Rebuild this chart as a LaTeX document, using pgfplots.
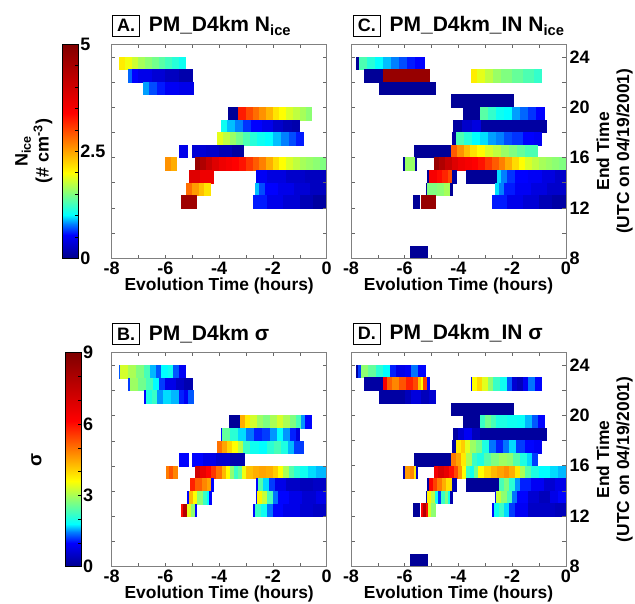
\documentclass[border=0pt]{standalone}
\usepackage{fontspec}
\setmainfont{Liberation Sans}
\usepackage{pgfplots}
\pgfplotsset{compat=1.18}

\newcommand\tickfont{\fontsize{18}{20}\selectfont\bfseries}
\newcommand\labfont{\fontsize{17.4}{20}\selectfont\bfseries}
\newcommand\ttlfont{\fontsize{21}{24}\selectfont\bfseries}
\newcommand\ttlbox[1]{{\tickfont\setlength\fboxsep{4pt}\setlength\fboxrule{0.7pt}\fbox{#1}}\hspace{9pt}}

\pgfplotsset{
  colormap={jetlike}{rgb(0pt)=(0,0,0.55) rgb(11pt)=(0,0,1) rgb(16pt)=(0,0.5,1) rgb(20pt)=(0,1,1) rgb(30pt)=(0.5,1,0.5) rgb(40pt)=(1,1,0) rgb(54pt)=(1,0.5,0) rgb(68pt)=(1,0,0) rgb(100pt)=(0.5,0,0)},
  panel/.style={
    scale only axis, width=215pt, height=214pt,
    xmin=-8, xmax=0, ymin=8, ymax=25,
    xtick={-8,-6,-4,-2,0}, xticklabels={-8,-6,-4,-2,0},
    minor xtick={-7,-5,-3,-1},
    ytick={8,12,16,20,24}, minor ytick={10,14,18,22},
    yticklabels={},
    tick align=inside,
    major tick length=3.5pt, minor tick length=3.5pt,
    tick style={black!60, line width=0.6pt},
    axis line style={black!50, line width=0.8pt},
    ticklabel style={font=\tickfont},
    label style={font=\labfont},
    xlabel={Evolution Time (hours)},
    xlabel style={yshift=3.5pt},
    colormap name=jetlike,
    axis on top,
  },
  rightlab/.style={
    yticklabel pos=right,
    yticklabels={8,12,16,20,24},
    ylabel={End Time\\(UTC on 04/19/2001)},
    ylabel style={align=center},
  },
  cbar/.style={
    scale only axis, width=16pt, height=214pt,
    xmin=0, xmax=1, xtick=\empty,
    ytick pos=right, yticklabel pos=right,
    tick align=inside, major tick length=3pt, minor tick length=3pt,
    tick style={black, line width=0.5pt},
    axis line style={black, line width=0.6pt},
    ticklabel style={font=\tickfont},
    yticklabel style={xshift=-1.5pt},
    colormap name=jetlike,
    axis on top,
  },
  strip/.style={surf, shader=flat corner, mesh/rows=2, point meta=explicit},
}

\begin{document}
\begin{tikzpicture}
\useasboundingbox (0,0) rectangle (635pt,604pt);

% ---------------- colour bar of the N_ice panels
\begin{axis}[cbar, at={(62.3pt,345.7pt)}, anchor=south west,
  ymin=0, ymax=5, point meta min=0, point meta max=5,
  ytick={0,2.5,5}, yticklabels={0,2.5,5},
  minor ytick={0.5,1,1.5,2,3,3.5,4,4.5},
  ylabel={N\textsubscript{ice}\\(\# cm\textsuperscript{-3})},
  ylabel style={at={(axis description cs:-0.4,0.5)}, anchor=south, align=center, font=\fontsize{18}{21}\selectfont\bfseries}]
\addplot[surf, shader=interp, mesh/rows=9, point meta=y] coordinates {
 (0,0) (1,0) (0,0.55) (1,0.55) (0,0.8) (1,0.8) (0,1) (1,1) (0,1.5) (1,1.5)
 (0,2) (1,2) (0,2.7) (1,2.7) (0,3.4) (1,3.4) (0,5) (1,5)};
\end{axis}

% ---------------- colour bar of the sigma panels
\begin{axis}[cbar, at={(65pt,37.3pt)}, anchor=south west,
  ymin=0, ymax=9, point meta min=0, point meta max=9,
  ytick={0,3,6,9}, yticklabels={0,3,6,9},
  minor ytick={1,2,4,5,7,8},
  ylabel={σ},
  ylabel style={at={(axis description cs:-1.25,0.5)}, anchor=south, font=\fontsize{19}{21}\selectfont\bfseries}]
\addplot[surf, shader=interp, mesh/rows=9, point meta=y] coordinates {
 (0,0) (1,0) (0,0.99) (1,0.99) (0,1.44) (1,1.44) (0,1.8) (1,1.8) (0,2.7) (1,2.7)
 (0,3.6) (1,3.6) (0,4.86) (1,4.86) (0,6.12) (1,6.12) (0,9) (1,9)};
\end{axis}

% ---------------- A: PM_D4km N_ice
\begin{axis}[panel, name=A, at={(111.7pt,345.7pt)}, anchor=south west,
  point meta min=0, point meta max=5]
\addplot[strip] coordinates {(-7.73,23)[2.1] (-7.5,23)[1.95] (-7.25,23)[1.8] (-7,23)[1.65] (-6.75,23)[1.55] (-6.5,23)[1.45] (-6.25,23)[1.35] (-6,23)[1.25] (-5.75,23)[1.15] (-5.5,23)[1.05] (-5.27,23)[1.05]
 (-7.73,24)[2.1] (-7.5,24)[1.95] (-7.25,24)[1.8] (-7,24)[1.65] (-6.75,24)[1.55] (-6.5,24)[1.45] (-6.25,24)[1.35] (-6,24)[1.25] (-5.75,24)[1.15] (-5.5,24)[1.05] (-5.27,24)[1.05]};
\addplot[strip] coordinates {(-7.38,22)[0.75] (-7.25,22)[0.55] (-7,22)[0.45] (-6.5,22)[0.35] (-6,22)[0.25] (-5.5,22)[0.15] (-5.02,22)[0.15]
 (-7.38,23)[0.75] (-7.25,23)[0.55] (-7,23)[0.45] (-6.5,23)[0.35] (-6,23)[0.25] (-5.5,23)[0.15] (-5.02,23)[0.15]};
\addplot[strip] coordinates {(-6.82,21)[0.85] (-6.6,21)[0.7] (-6.3,21)[0.6] (-6,21)[0.5] (-5.5,21)[0.45] (-4.96,21)[0.45]
 (-6.82,22)[0.85] (-6.6,22)[0.7] (-6.3,22)[0.6] (-6,22)[0.5] (-5.5,22)[0.45] (-4.96,22)[0.45]};
\addplot[strip] coordinates {(-3.66,19)[0.05] (-3.29,19)[3.25] (-3,19)[3] (-2.75,19)[2.8] (-2.5,19)[2.6] (-2.25,19)[2.4] (-2,19)[2.15] (-1.75,19)[2] (-1.5,19)[1.85] (-1.25,19)[1.75] (-1,19)[1.65] (-0.75,19)[1.55] (-0.59,19)[1.55]
 (-3.66,20)[0.05] (-3.29,20)[3.25] (-3,20)[3] (-2.75,20)[2.8] (-2.5,20)[2.6] (-2.25,20)[2.4] (-2,20)[2.15] (-1.75,20)[2] (-1.5,20)[1.85] (-1.25,20)[1.75] (-1,20)[1.65] (-0.75,20)[1.55] (-0.59,20)[1.55]};
\addplot[strip] coordinates {(-3.93,18)[1.05] (-3.7,18)[0.9] (-3.4,18)[0.8] (-3.1,18)[0.65] (-2.8,18)[0.55] (-2.4,18)[0.45] (-2,18)[0.3] (-1.6,18)[0.2] (-1.3,18)[0.15] (-1.03,18)[0.15]
 (-3.93,19)[1.05] (-3.7,19)[0.9] (-3.4,19)[0.8] (-3.1,19)[0.65] (-2.8,19)[0.55] (-2.4,19)[0.45] (-2,19)[0.3] (-1.6,19)[0.2] (-1.3,19)[0.15] (-1.03,19)[0.15]};
\addplot[strip] coordinates {(-4.09,17)[1.9] (-3.85,17)[1.75] (-3.6,17)[1.6] (-3.35,17)[1.45] (-3.1,17)[1.3] (-2.85,17)[1.15] (-2.6,17)[1.05] (-2.3,17)[1] (-2,17)[0.9] (-1.7,17)[0.8] (-1.4,17)[0.7] (-1.15,17)[0.6] (-0.87,17)[0.6]
 (-4.09,18)[1.9] (-3.85,18)[1.75] (-3.6,18)[1.6] (-3.35,18)[1.45] (-3.1,18)[1.3] (-2.85,18)[1.15] (-2.6,18)[1.05] (-2.3,18)[1] (-2,18)[0.9] (-1.7,18)[0.8] (-1.4,18)[0.7] (-1.15,18)[0.6] (-0.87,18)[0.6]};
\addplot[strip] coordinates {(-5.49,16)[0.45] (-5.18,16)[0.45] (-5.49,17)[0.45] (-5.18,17)[0.45]};
\addplot[strip] coordinates {(-4.99,16)[0.35] (-4.5,16)[0.3] (-4,16)[0.2] (-3.5,16)[0.1] (-3.1,16)[0.1]
 (-4.99,17)[0.35] (-4.5,17)[0.3] (-4,17)[0.2] (-3.5,17)[0.1] (-3.1,17)[0.1]};
\addplot[strip] coordinates {(-6.01,15)[2.6] (-5.8,15)[2.45] (-5.61,15)[2.45] (-6.01,16)[2.6] (-5.8,16)[2.45] (-5.61,16)[2.45]};
\addplot[strip] coordinates {(-4.9,15)[4.7] (-4.7,15)[4.4] (-4.5,15)[4.1] (-4.25,15)[3.8] (-4,15)[3.6] (-3.75,15)[3.5] (-3.5,15)[3.4] (-3.25,15)[3.3] (-3,15)[3.1] (-2.75,15)[2.9] (-2.5,15)[2.7] (-2.25,15)[2.45] (-2,15)[2.2] (-1.75,15)[2] (-1.5,15)[1.85] (-1.25,15)[1.75] (-1,15)[1.65] (-0.75,15)[1.6] (-0.5,15)[1.55] (-0.25,15)[1.5] (0,15)[1.5]
 (-4.9,16)[4.7] (-4.7,16)[4.4] (-4.5,16)[4.1] (-4.25,16)[3.8] (-4,16)[3.6] (-3.75,16)[3.5] (-3.5,16)[3.4] (-3.25,16)[3.3] (-3,16)[3.1] (-2.75,16)[2.9] (-2.5,16)[2.7] (-2.25,16)[2.45] (-2,16)[2.2] (-1.75,16)[2] (-1.5,16)[1.85] (-1.25,16)[1.75] (-1,16)[1.65] (-0.75,16)[1.6] (-0.5,16)[1.55] (-0.25,16)[1.5] (0,16)[1.5]};
\addplot[strip] coordinates {(-5.11,14)[3.8] (-4.7,14)[3.6] (-4.24,14)[3.6] (-5.11,15)[3.8] (-4.7,15)[3.6] (-4.24,15)[3.6]};
\addplot[strip] coordinates {(-2.63,14)[0.5] (-2.2,14)[0.4] (-1.5,14)[0.3] (-0.8,14)[0.25] (0,14)[0.25]
 (-2.63,15)[0.5] (-2.2,15)[0.4] (-1.5,15)[0.3] (-0.8,15)[0.25] (0,15)[0.25]};
\addplot[strip] coordinates {(-5.21,13)[2.8] (-5,13)[2.55] (-4.75,13)[2.35] (-4.55,13)[2.15] (-4.34,13)[2.15]
 (-5.21,14)[2.8] (-5,14)[2.55] (-4.75,14)[2.35] (-4.55,14)[2.15] (-4.34,14)[2.15]};
\addplot[strip] coordinates {(-2.66,13)[0.9] (-2.5,13)[0.7] (-2.3,13)[0.55] (-1.8,13)[0.45] (-1.2,13)[0.35] (-0.6,13)[0.25] (0,13)[0.25]
 (-2.66,14)[0.9] (-2.5,14)[0.7] (-2.3,14)[0.55] (-1.8,14)[0.45] (-1.2,14)[0.35] (-0.6,14)[0.25] (0,14)[0.25]};
\addplot[strip] coordinates {(-5.41,12)[4.6] (-4.84,12)[4.6] (-5.41,13)[4.6] (-4.84,13)[4.6]};
\addplot[strip] coordinates {(-2.73,12)[0.6] (-2.2,12)[0.45] (-1.6,12)[0.35] (-1,12)[0.2] (-0.5,12)[0.1] (0,12)[0.1]
 (-2.73,13)[0.6] (-2.2,13)[0.45] (-1.6,13)[0.35] (-1,13)[0.2] (-0.5,13)[0.1] (0,13)[0.1]};
\end{axis}

% ---------------- C: PM_D4km_IN N_ice
\begin{axis}[panel, rightlab, name=C, at={(351pt,345.7pt)}, anchor=south west,
  point meta min=0, point meta max=5]
\addplot[strip] coordinates {(-7.79,23)[0.05] (-7.69,23)[1.3] (-7.4,23)[1.15] (-7.1,23)[1] (-6.8,23)[0.9] (-6.5,23)[0.8] (-6.2,23)[0.7] (-5.9,23)[0.6] (-5.6,23)[0.55] (-5.27,23)[0.55]
 (-7.79,24)[0.05] (-7.69,24)[1.3] (-7.4,24)[1.15] (-7.1,24)[1] (-6.8,24)[0.9] (-6.5,24)[0.8] (-6.2,24)[0.7] (-5.9,24)[0.6] (-5.6,24)[0.55] (-5.27,24)[0.55]};
\addplot[strip] coordinates {(-7.5,22)[0.05] (-6.8,22)[4.7] (-5.1,22)[4.7] (-7.5,23)[0.05] (-6.8,23)[4.7] (-5.1,23)[4.7]};
\addplot[strip] coordinates {(-3.53,22)[2.1] (-3.3,22)[1.9] (-3,22)[1.75] (-2.7,22)[1.6] (-2.4,22)[1.5] (-2,22)[1.4] (-1.6,22)[1.3] (-1.2,22)[1.2] (-0.93,22)[1.2]
 (-3.53,23)[2.1] (-3.3,23)[1.9] (-3,23)[1.75] (-2.7,23)[1.6] (-2.4,23)[1.5] (-2,23)[1.4] (-1.6,23)[1.3] (-1.2,23)[1.2] (-0.93,23)[1.2]};
\addplot[strip] coordinates {(-6.96,21)[0.05] (-4.86,21)[0.05] (-6.96,22)[0.05] (-4.86,22)[0.05]};
\addplot[strip] coordinates {(-4.28,20)[0.05] (-1.98,20)[0.05] (-4.28,21)[0.05] (-1.98,21)[0.05]};
\addplot[strip] coordinates {(-3.84,19)[0.05] (-3.2,19)[1.35] (-2.9,19)[1.2] (-2.6,19)[1.05] (-2.3,19)[1] (-2,19)[0.85] (-1.7,19)[0.75] (-1.4,19)[0.65] (-1.1,19)[0.55] (-0.82,19)[0.55]
 (-3.84,20)[0.05] (-3.2,20)[1.35] (-2.9,20)[1.2] (-2.6,20)[1.05] (-2.3,20)[1] (-2,20)[0.85] (-1.7,20)[0.75] (-1.4,20)[0.65] (-1.1,20)[0.55] (-0.82,20)[0.55]};
\addplot[strip] coordinates {(-4.2,18)[0.1] (-3.85,18)[0.3] (-3.5,18)[0.4] (-3.15,18)[0.1] (-0.74,18)[0.1]
 (-4.2,19)[0.1] (-3.85,19)[0.3] (-3.5,19)[0.4] (-3.15,19)[0.1] (-0.74,19)[0.1]};
\addplot[strip] coordinates {(-4.24,17)[0.1] (-4.07,17)[1.3] (-3.8,17)[1.15] (-3.5,17)[1] (-3.2,17)[0.95] (-2.9,17)[0.85] (-2.6,17)[0.8] (-2.3,17)[0.7] (-2,17)[0.65] (-1.6,17)[0.55] (-1.2,17)[0.5] (-0.93,17)[0.5]
 (-4.24,18)[0.1] (-4.07,18)[1.3] (-3.8,18)[1.15] (-3.5,18)[1] (-3.2,18)[0.95] (-2.9,18)[0.85] (-2.6,18)[0.8] (-2.3,18)[0.7] (-2,18)[0.65] (-1.6,18)[0.55] (-1.2,18)[0.5] (-0.93,18)[0.5]};
\addplot[strip] coordinates {(-5.64,16)[0.05] (-4.28,16)[2.9] (-4.05,16)[2.6] (-3.8,16)[2.35] (-3.55,16)[2.15] (-3.3,16)[2] (-3,16)[1.85] (-2.7,16)[1.75] (-2.4,16)[1.6] (-2.1,16)[1.5] (-1.8,16)[1.4] (-1.5,16)[1.3] (-1.09,16)[1.3]
 (-5.64,17)[0.05] (-4.28,17)[2.9] (-4.05,17)[2.6] (-3.8,17)[2.35] (-3.55,17)[2.15] (-3.3,17)[2] (-3,17)[1.85] (-2.7,17)[1.75] (-2.4,17)[1.6] (-2.1,17)[1.5] (-1.8,17)[1.4] (-1.5,17)[1.3] (-1.09,17)[1.3]};
\addplot[strip] coordinates {(-6.04,15)[0.05] (-5.97,15)[1.6] (-5.62,15)[0.05] (-5.56,15)[0.05] (-6.04,16)[0.05] (-5.97,16)[1.6] (-5.62,16)[0.05] (-5.56,16)[0.05]};
\addplot[strip] coordinates {(-4.9,15)[4.7] (-4.7,15)[4.4] (-4.5,15)[4.1] (-4.25,15)[3.8] (-4,15)[3.6] (-3.75,15)[3.5] (-3.5,15)[3.4] (-3.25,15)[3.3] (-3,15)[3.1] (-2.75,15)[2.9] (-2.5,15)[2.7] (-2.25,15)[2.45] (-2,15)[2.2] (-1.75,15)[2] (-1.5,15)[1.85] (-1.25,15)[1.75] (-1,15)[1.65] (-0.75,15)[1.6] (-0.5,15)[1.55] (-0.25,15)[1.5] (0,15)[1.5]
 (-4.9,16)[4.7] (-4.7,16)[4.4] (-4.5,16)[4.1] (-4.25,16)[3.8] (-4,16)[3.6] (-3.75,16)[3.5] (-3.5,16)[3.4] (-3.25,16)[3.3] (-3,16)[3.1] (-2.75,16)[2.9] (-2.5,16)[2.7] (-2.25,16)[2.45] (-2,16)[2.2] (-1.75,16)[2] (-1.5,16)[1.85] (-1.25,16)[1.75] (-1,16)[1.65] (-0.75,16)[1.6] (-0.5,16)[1.55] (-0.25,16)[1.5] (0,16)[1.5]};
\addplot[strip] coordinates {(-5.15,14)[0.05] (-5.09,14)[3.5] (-4.8,14)[3.35] (-4.6,14)[3.2] (-4.4,14)[3] (-4.22,14)[0.1] (-4.09,14)[0.1]
 (-5.15,15)[0.05] (-5.09,15)[3.5] (-4.8,15)[3.35] (-4.6,15)[3.2] (-4.4,15)[3] (-4.22,15)[0.1] (-4.09,15)[0.1]};
\addplot[strip] coordinates {(-3.73,14)[0.05] (-2.55,14)[0.95] (-2.4,14)[0.8] (-2.2,14)[0.65] (-1.9,14)[0.55] (-1.4,14)[0.5] (-0.9,14)[0.4] (-0.4,14)[0.3] (0,14)[0.3]
 (-3.73,15)[0.05] (-2.55,15)[0.95] (-2.4,15)[0.8] (-2.2,15)[0.65] (-1.9,15)[0.55] (-1.4,15)[0.5] (-0.9,15)[0.4] (-0.4,15)[0.3] (0,15)[0.3]};
\addplot[strip] coordinates {(-5.22,13)[0.05] (-5.16,13)[1.5] (-4.8,13)[1.55] (-4.55,13)[1.65] (-4.31,13)[0.05] (-4.24,13)[0.05]
 (-5.22,14)[0.05] (-5.16,14)[1.5] (-4.8,14)[1.55] (-4.55,14)[1.65] (-4.31,14)[0.05] (-4.24,14)[0.05]};
\addplot[strip] coordinates {(-2.64,13)[0.95] (-2.5,13)[0.8] (-2.3,13)[0.6] (-1.9,13)[0.5] (-1.3,13)[0.4] (-0.7,13)[0.3] (0,13)[0.3]
 (-2.64,14)[0.95] (-2.5,14)[0.8] (-2.3,14)[0.6] (-1.9,14)[0.5] (-1.3,14)[0.4] (-0.7,14)[0.3] (0,14)[0.3]};
\addplot[strip] coordinates {(-5.7,12)[0.05] (-5.47,12)[0.05] (-5.7,13)[0.05] (-5.47,13)[0.05]};
\addplot[strip] coordinates {(-5.39,12)[4.7] (-4.86,12)[4.7] (-5.39,13)[4.7] (-4.86,13)[4.7]};
\addplot[strip] coordinates {(-2.73,12)[0.6] (-2.2,12)[0.45] (-1.6,12)[0.35] (-1,12)[0.2] (-0.5,12)[0.12] (0,12)[0.12]
 (-2.73,13)[0.6] (-2.2,13)[0.45] (-1.6,13)[0.35] (-1,13)[0.2] (-0.5,13)[0.12] (0,13)[0.12]};
\addplot[strip] coordinates {(-5.79,8)[0.05] (-5.18,8)[0.05] (-5.79,9)[0.05] (-5.18,9)[0.05]};
\end{axis}

% ---------------- B: PM_D4km sigma
\begin{axis}[panel, name=B, at={(111.7pt,37.3pt)}, anchor=south west,
  point meta min=0, point meta max=9]
\addplot[strip] coordinates {(-7.73,23)[1.3] (-7.67,23)[3.3] (-7.4,23)[3] (-7.1,23)[2.7] (-6.8,23)[2.3] (-6.55,23)[1.6] (-6.35,23)[1.3] (-6.15,23)[1.8] (-5.9,23)[1.9] (-5.7,23)[1.3] (-5.5,23)[0.9] (-5.25,23)[0.9]
 (-7.73,24)[1.3] (-7.67,24)[3.3] (-7.4,24)[3] (-7.1,24)[2.7] (-6.8,24)[2.3] (-6.55,24)[1.6] (-6.35,24)[1.3] (-6.15,24)[1.8] (-5.9,24)[1.9] (-5.7,24)[1.3] (-5.5,24)[0.9] (-5.25,24)[0.9]};
\addplot[strip] coordinates {(-7.38,22)[1.2] (-7.32,22)[2.9] (-7,22)[2.6] (-6.7,22)[2.3] (-6.45,22)[1.8] (-6.25,22)[1.2] (-6,22)[0.8] (-5.6,22)[0.5] (-5.3,22)[0.3] (-5,22)[0.3]
 (-7.38,23)[1.2] (-7.32,23)[2.9] (-7,23)[2.6] (-6.7,23)[2.3] (-6.45,23)[1.8] (-6.25,23)[1.2] (-6,23)[0.8] (-5.6,23)[0.5] (-5.3,23)[0.3] (-5,23)[0.3]};
\addplot[strip] coordinates {(-6.8,21)[1] (-6.73,21)[2] (-6.5,21)[2.2] (-6.3,21)[1.5] (-6.1,21)[1.7] (-5.8,21)[1.6] (-5.5,21)[1.1] (-5.3,21)[0.9] (-5.15,21)[1.3] (-4.96,21)[1.3]
 (-6.8,22)[1] (-6.73,22)[2] (-6.5,22)[2.2] (-6.3,22)[1.5] (-6.1,22)[1.7] (-5.8,22)[1.6] (-5.5,22)[1.1] (-5.3,22)[0.9] (-5.15,22)[1.3] (-4.96,22)[1.3]};
\addplot[strip] coordinates {(-3.62,19)[0.1] (-3.23,19)[4.4] (-3.05,19)[3.8] (-2.85,19)[3.3] (-2.6,19)[2.9] (-2.35,19)[2.7] (-2.1,19)[3] (-1.85,19)[3.3] (-1.6,19)[3] (-1.35,19)[2.7] (-1.15,19)[2.3] (-0.95,19)[1.5] (-0.8,19)[1] (-0.56,19)[1]
 (-3.62,20)[0.1] (-3.23,20)[4.4] (-3.05,20)[3.8] (-2.85,20)[3.3] (-2.6,20)[2.9] (-2.35,20)[2.7] (-2.1,20)[3] (-1.85,20)[3.3] (-1.6,20)[3] (-1.35,20)[2.7] (-1.15,20)[2.3] (-0.95,20)[1.5] (-0.8,20)[1] (-0.56,20)[1]};
\addplot[strip] coordinates {(-3.93,18)[1] (-3.87,18)[2.5] (-3.6,18)[2.1] (-3.3,18)[1.7] (-3,18)[1.4] (-2.7,18)[1.1] (-2.4,18)[1.2] (-2.1,18)[1.5] (-1.85,18)[1.8] (-1.6,18)[1.5] (-1.35,18)[1.1] (-1.15,18)[0.7] (-1.03,18)[0.7]
 (-3.93,19)[1] (-3.87,19)[2.5] (-3.6,19)[2.1] (-3.3,19)[1.7] (-3,19)[1.4] (-2.7,19)[1.1] (-2.4,19)[1.2] (-2.1,19)[1.5] (-1.85,19)[1.8] (-1.6,19)[1.5] (-1.35,19)[1.1] (-1.15,19)[0.7] (-1.03,19)[0.7]};
\addplot[strip] coordinates {(-4.07,17)[5] (-3.9,17)[4.5] (-3.7,17)[4] (-3.5,17)[3.6] (-3.3,17)[3.1] (-3.1,17)[2.2] (-2.85,17)[1.9] (-2.5,17)[1.8] (-2.2,17)[2.1] (-1.95,17)[2.3] (-1.7,17)[2] (-1.45,17)[1.6] (-1.2,17)[1.2] (-0.87,17)[1.2]
 (-4.07,18)[5] (-3.9,18)[4.5] (-3.7,18)[4] (-3.5,18)[3.6] (-3.3,18)[3.1] (-3.1,18)[2.2] (-2.85,18)[1.9] (-2.5,18)[1.8] (-2.2,18)[2.1] (-1.95,18)[2.3] (-1.7,18)[2] (-1.45,18)[1.6] (-1.2,18)[1.2] (-0.87,18)[1.2]};
\addplot[strip] coordinates {(-5.48,16)[1] (-5.17,16)[1] (-5.48,17)[1] (-5.17,17)[1]};
\addplot[strip] coordinates {(-4.99,16)[1] (-4.6,16)[0.8] (-4.1,16)[0.6] (-3.6,16)[0.3] (-3.07,16)[0.3]
 (-4.99,17)[1] (-4.6,17)[0.8] (-4.1,17)[0.6] (-3.6,17)[0.3] (-3.07,17)[0.3]};
\addplot[strip] coordinates {(-5.98,15)[4.9] (-5.85,15)[5.3] (-5.7,15)[4.8] (-5.58,15)[4.8] (-5.98,16)[4.9] (-5.85,16)[5.3] (-5.7,16)[4.8] (-5.58,16)[4.8]};
\addplot[strip] coordinates {(-4.9,15)[7.2] (-4.7,15)[6.6] (-4.5,15)[6.1] (-4.3,15)[5.6] (-4.1,15)[5] (-3.9,15)[4.3] (-3.75,15)[3.6] (-3.6,15)[2.8] (-3.45,15)[2.2] (-3.3,15)[2.5] (-3.15,15)[3.5] (-3,15)[4.2] (-2.75,15)[4.4] (-2.5,15)[4.5] (-2.25,15)[4.4] (-2,15)[4.1] (-1.8,15)[3.6] (-1.6,15)[3] (-1.4,15)[2.4] (-1.2,15)[2.1] (-1,15)[1.9] (-0.7,15)[1.7] (-0.4,15)[1.6] (0,15)[1.6]
 (-4.9,16)[7.2] (-4.7,16)[6.6] (-4.5,16)[6.1] (-4.3,16)[5.6] (-4.1,16)[5] (-3.9,16)[4.3] (-3.75,16)[3.6] (-3.6,16)[2.8] (-3.45,16)[2.2] (-3.3,16)[2.5] (-3.15,16)[3.5] (-3,16)[4.2] (-2.75,16)[4.4] (-2.5,16)[4.5] (-2.25,16)[4.4] (-2,16)[4.1] (-1.8,16)[3.6] (-1.6,16)[3] (-1.4,16)[2.4] (-1.2,16)[2.1] (-1,16)[1.9] (-0.7,16)[1.7] (-0.4,16)[1.6] (0,16)[1.6]};
\addplot[strip] coordinates {(-5.08,14)[5.8] (-4.9,14)[5.2] (-4.65,14)[4.8] (-4.45,14)[4.5] (-4.3,14)[1] (-4.22,14)[1]
 (-5.08,15)[5.8] (-4.9,15)[5.2] (-4.65,15)[4.8] (-4.45,15)[4.5] (-4.3,15)[1] (-4.22,15)[1]};
\addplot[strip] coordinates {(-2.63,14)[1] (-2.55,14)[2.4] (-2.35,14)[1.7] (-2.15,14)[1.2] (-1.9,14)[0.8] (-1.5,14)[0.5] (-1,14)[0.4] (-0.5,14)[0.5] (0,14)[0.5]
 (-2.63,15)[1] (-2.55,15)[2.4] (-2.35,15)[1.7] (-2.15,15)[1.2] (-1.9,15)[0.8] (-1.5,15)[0.5] (-1,15)[0.4] (-0.5,15)[0.5] (0,15)[0.5]};
\addplot[strip] coordinates {(-5.18,13)[1] (-5.12,13)[4.3] (-4.95,13)[3.6] (-4.8,13)[2.8] (-4.6,13)[2.2] (-4.45,13)[1.8] (-4.36,13)[1] (-4.3,13)[1]
 (-5.18,14)[1] (-5.12,14)[4.3] (-4.95,14)[3.6] (-4.8,14)[2.8] (-4.6,14)[2.2] (-4.45,14)[1.8] (-4.36,14)[1] (-4.3,14)[1]};
\addplot[strip] coordinates {(-2.63,13)[1] (-2.58,13)[3.7] (-2.4,13)[3.2] (-2.2,13)[2.3] (-2,13)[1.4] (-1.8,13)[1] (-1.4,13)[0.8] (-0.9,13)[0.6] (-0.4,13)[0.8] (0,13)[0.8]
 (-2.63,14)[1] (-2.58,14)[3.7] (-2.4,14)[3.2] (-2.2,14)[2.3] (-2,14)[1.4] (-1.8,14)[1] (-1.4,14)[0.8] (-0.9,14)[0.6] (-0.4,14)[0.8] (0,14)[0.8]};
\addplot[strip] coordinates {(-5.4,12)[6] (-5.33,12)[7.8] (-5.2,12)[3.4] (-5.05,12)[2.8] (-4.9,12)[1] (-4.84,12)[1]
 (-5.4,13)[6] (-5.33,13)[7.8] (-5.2,13)[3.4] (-5.05,13)[2.8] (-4.9,13)[1] (-4.84,13)[1]};
\addplot[strip] coordinates {(-2.73,12)[1] (-2.67,12)[2.2] (-2.45,12)[1.9] (-2.2,12)[1.4] (-2,12)[1] (-1.6,12)[0.8] (-1,12)[0.6] (-0.5,12)[0.5] (0,12)[0.5]
 (-2.73,13)[1] (-2.67,13)[2.2] (-2.45,13)[1.9] (-2.2,13)[1.4] (-2,13)[1] (-1.6,13)[0.8] (-1,13)[0.6] (-0.5,13)[0.5] (0,13)[0.5]};
\end{axis}

% ---------------- D: PM_D4km_IN sigma
\begin{axis}[panel, rightlab, name=D, at={(351pt,37.5pt)}, anchor=south west,
  point meta min=0, point meta max=9]
\addplot[strip] coordinates {(-7.79,23)[0.2] (-7.72,23)[1.2] (-7.62,23)[2.8] (-7.35,23)[2.5] (-7.05,23)[2.1] (-6.8,23)[1.8] (-6.55,23)[1.1] (-6.3,23)[0.8] (-6,23)[0.9] (-5.75,23)[1.4] (-5.5,23)[1] (-5.25,23)[1]
 (-7.79,24)[0.2] (-7.72,24)[1.2] (-7.62,24)[2.8] (-7.35,24)[2.5] (-7.05,24)[2.1] (-6.8,24)[1.8] (-6.55,24)[1.1] (-6.3,24)[0.8] (-6,24)[0.9] (-5.75,24)[1.4] (-5.5,24)[1] (-5.25,24)[1]};
\addplot[strip] coordinates {(-7.5,22)[0.2] (-6.8,22)[6.3] (-6.65,22)[5.2] (-6.45,22)[4.8] (-6.2,22)[5.3] (-5.95,22)[5.8] (-5.7,22)[5.4] (-5.5,22)[4.2] (-5.4,22)[3.6] (-5.32,22)[5.5] (-5.17,22)[1] (-5.1,22)[1]
 (-7.5,23)[0.2] (-6.8,23)[6.3] (-6.65,23)[5.2] (-6.45,23)[4.8] (-6.2,23)[5.3] (-5.95,23)[5.8] (-5.7,23)[5.4] (-5.5,23)[4.2] (-5.4,23)[3.6] (-5.32,23)[5.5] (-5.17,23)[1] (-5.1,23)[1]};
\addplot[strip] coordinates {(-3.53,22)[1] (-3.48,22)[3.6] (-3.3,22)[4] (-3.1,22)[3.4] (-2.9,22)[2.8] (-2.7,22)[2.2] (-2.45,22)[1.9] (-2.2,22)[1.3] (-2,22)[0.6] (-1.8,22)[0.4] (-1.6,22)[0.9] (-1.4,22)[1.4] (-1.15,22)[1] (-0.93,22)[1]
 (-3.53,23)[1] (-3.48,23)[3.6] (-3.3,23)[4] (-3.1,23)[3.4] (-2.9,23)[2.8] (-2.7,23)[2.2] (-2.45,23)[1.9] (-2.2,23)[1.3] (-2,23)[0.6] (-1.8,23)[0.4] (-1.6,23)[0.9] (-1.4,23)[1.4] (-1.15,23)[1] (-0.93,23)[1]};
\addplot[strip] coordinates {(-6.95,21)[0.2] (-6,21)[0.4] (-5.75,21)[0.7] (-5.4,21)[0.4] (-5.1,21)[0.6] (-4.86,21)[0.6]
 (-6.95,22)[0.2] (-6,22)[0.4] (-5.75,22)[0.7] (-5.4,22)[0.4] (-5.1,22)[0.6] (-4.86,22)[0.6]};
\addplot[strip] coordinates {(-4.28,20)[0.1] (-1.98,20)[0.1] (-4.28,21)[0.1] (-1.98,21)[0.1]};
\addplot[strip] coordinates {(-3.84,19)[0.1] (-3.2,19)[2.2] (-3,19)[2.6] (-2.8,19)[2.3] (-2.6,19)[2] (-2.2,19)[1.9] (-1.8,19)[1.85] (-1.5,19)[1.6] (-1.25,19)[1.3] (-1.05,19)[1] (-0.8,19)[1]
 (-3.84,20)[0.1] (-3.2,20)[2.2] (-3,20)[2.6] (-2.8,20)[2.3] (-2.6,20)[2] (-2.2,20)[1.9] (-1.8,20)[1.85] (-1.5,20)[1.6] (-1.25,20)[1.3] (-1.05,20)[1] (-0.8,20)[1]};
\addplot[strip] coordinates {(-4.2,18)[0.2] (-4,18)[0.6] (-3.8,18)[0.9] (-3.5,18)[0.4] (-3.2,18)[0.15] (-0.74,18)[0.15]
 (-4.2,19)[0.2] (-4,19)[0.6] (-3.8,19)[0.9] (-3.5,19)[0.4] (-3.2,19)[0.15] (-0.74,19)[0.15]};
\addplot[strip] coordinates {(-4.24,17)[0.2] (-4.08,17)[3.8] (-3.9,17)[4.1] (-3.75,17)[3.4] (-3.55,17)[2.9] (-3.35,17)[2.6] (-3.1,17)[2] (-2.85,17)[1.4] (-2.6,17)[1.1] (-2.35,17)[1.4] (-2.1,17)[1.7] (-1.85,17)[1.2] (-1.5,17)[1] (-1.2,17)[0.9] (-0.93,17)[0.9]
 (-4.24,18)[0.2] (-4.08,18)[3.8] (-3.9,18)[4.1] (-3.75,18)[3.4] (-3.55,18)[2.9] (-3.35,18)[2.6] (-3.1,18)[2] (-2.85,18)[1.4] (-2.6,18)[1.1] (-2.35,18)[1.4] (-2.1,18)[1.7] (-1.85,18)[1.2] (-1.5,18)[1] (-1.2,18)[0.9] (-0.93,18)[0.9]};
\addplot[strip] coordinates {(-5.64,16)[0.1] (-4.28,16)[4.9] (-4.1,16)[4.5] (-3.9,16)[3.8] (-3.7,16)[3] (-3.5,16)[2.2] (-3.3,16)[2] (-3.05,16)[2.4] (-2.8,16)[2.7] (-2.5,16)[2.9] (-2.2,16)[2.8] (-1.95,16)[2.4] (-1.7,16)[2] (-1.45,16)[1.7] (-1.25,16)[1.2] (-1.09,16)[1.2]
 (-5.64,17)[0.1] (-4.28,17)[4.9] (-4.1,17)[4.5] (-3.9,17)[3.8] (-3.7,17)[3] (-3.5,17)[2.2] (-3.3,17)[2] (-3.05,17)[2.4] (-2.8,17)[2.7] (-2.5,17)[2.9] (-2.2,17)[2.8] (-1.95,17)[2.4] (-1.7,17)[2] (-1.45,17)[1.7] (-1.25,17)[1.2] (-1.09,17)[1.2]};
\addplot[strip] coordinates {(-6.04,15)[0.3] (-5.97,15)[4.6] (-5.8,15)[4.8] (-5.65,15)[3.8] (-5.58,15)[0.5] (-5.53,15)[0.5]
 (-6.04,16)[0.3] (-5.97,16)[4.6] (-5.8,16)[4.8] (-5.65,16)[3.8] (-5.58,16)[0.5] (-5.53,16)[0.5]};
\addplot[strip] coordinates {(-4.9,15)[6.4] (-4.75,15)[7] (-4.55,15)[6.6] (-4.35,15)[6] (-4.15,15)[5.4] (-4,15)[4.6] (-3.85,15)[3.6] (-3.7,15)[2.2] (-3.55,15)[1.9] (-3.4,15)[2.6] (-3.25,15)[3.6] (-3.05,15)[4] (-2.8,15)[4.3] (-2.55,15)[4.5] (-2.3,15)[4.7] (-2.1,15)[4.4] (-1.9,15)[3.8] (-1.7,15)[3] (-1.5,15)[2.4] (-1.3,15)[2] (-1,15)[1.8] (-0.6,15)[1.7] (-0.3,15)[1.6] (0,15)[1.6]
 (-4.9,16)[6.4] (-4.75,16)[7] (-4.55,16)[6.6] (-4.35,16)[6] (-4.15,16)[5.4] (-4,16)[4.6] (-3.85,16)[3.6] (-3.7,16)[2.2] (-3.55,16)[1.9] (-3.4,16)[2.6] (-3.25,16)[3.6] (-3.05,16)[4] (-2.8,16)[4.3] (-2.55,16)[4.5] (-2.3,16)[4.7] (-2.1,16)[4.4] (-1.9,16)[3.8] (-1.7,16)[3] (-1.5,16)[2.4] (-1.3,16)[2] (-1,16)[1.8] (-0.6,16)[1.7] (-0.3,16)[1.6] (0,16)[1.6]};
\addplot[strip] coordinates {(-5.15,14)[0.2] (-5.09,14)[6.2] (-4.95,14)[5.5] (-4.8,14)[4.9] (-4.6,14)[4.4] (-4.45,14)[3.9] (-4.25,14)[0.3] (-4.09,14)[0.3]
 (-5.15,15)[0.2] (-5.09,15)[6.2] (-4.95,15)[5.5] (-4.8,15)[4.9] (-4.6,15)[4.4] (-4.45,15)[3.9] (-4.25,15)[0.3] (-4.09,15)[0.3]};
\addplot[strip] coordinates {(-3.73,14)[0.1] (-2.48,14)[2.3] (-2.3,14)[2.7] (-2.1,14)[2.1] (-1.9,14)[1.5] (-1.7,14)[1.1] (-1.3,14)[0.9] (-0.8,14)[0.6] (-0.4,14)[0.8] (0,14)[0.8]
 (-3.73,15)[0.1] (-2.48,15)[2.3] (-2.3,15)[2.7] (-2.1,15)[2.1] (-1.9,15)[1.5] (-1.7,15)[1.1] (-1.3,15)[0.9] (-0.8,15)[0.6] (-0.4,15)[0.8] (0,15)[0.8]};
\addplot[strip] coordinates {(-5.22,13)[0.3] (-5.15,13)[3.7] (-5,13)[3.1] (-4.85,13)[1.9] (-4.75,13)[1.2] (-4.65,13)[2.2] (-4.5,13)[2.7] (-4.38,13)[1.9] (-4.3,13)[0.3] (-4.22,13)[0.3]
 (-5.22,14)[0.3] (-5.15,14)[3.7] (-5,14)[3.1] (-4.85,14)[1.9] (-4.75,14)[1.2] (-4.65,14)[2.2] (-4.5,14)[2.7] (-4.38,14)[1.9] (-4.3,14)[0.3] (-4.22,14)[0.3]};
\addplot[strip] coordinates {(-2.64,13)[1] (-2.58,13)[3.2] (-2.4,13)[2.8] (-2.2,13)[2.3] (-2,13)[1.4] (-1.8,13)[1] (-1.4,13)[0.6] (-1,13)[0.4] (-0.6,13)[0.8] (-0.3,13)[1] (0,13)[1]
 (-2.64,14)[1] (-2.58,14)[3.2] (-2.4,14)[2.8] (-2.2,14)[2.3] (-2,14)[1.4] (-1.8,14)[1] (-1.4,14)[0.6] (-1,14)[0.4] (-0.6,14)[0.8] (-0.3,14)[1] (0,14)[1]};
\addplot[strip] coordinates {(-5.7,12)[0.1] (-5.47,12)[0.1] (-5.7,13)[0.1] (-5.47,13)[0.1]};
\addplot[strip] coordinates {(-5.39,12)[6.2] (-5.3,12)[7.8] (-5.2,12)[6] (-5.12,12)[3.3] (-5,12)[2.8] (-4.86,12)[2.8]
 (-5.39,13)[6.2] (-5.3,13)[7.8] (-5.2,13)[6] (-5.12,13)[3.3] (-5,13)[2.8] (-4.86,13)[2.8]};
\addplot[strip] coordinates {(-2.73,12)[1] (-2.67,12)[1.9] (-2.5,12)[2.2] (-2.3,12)[1.7] (-2.1,12)[1.2] (-1.9,12)[0.9] (-1.4,12)[0.5] (-0.8,12)[0.5] (-0.4,12)[0.4] (0,12)[0.4]
 (-2.73,13)[1] (-2.67,13)[1.9] (-2.5,13)[2.2] (-2.3,13)[1.7] (-2.1,13)[1.2] (-1.9,13)[0.9] (-1.4,13)[0.5] (-0.8,13)[0.5] (-0.4,13)[0.4] (0,13)[0.4]};
\addplot[strip] coordinates {(-5.79,8)[0.1] (-5.18,8)[0.1] (-5.79,9)[0.1] (-5.18,9)[0.1]};
\end{axis}

% ---------------- titles
\begin{scope}[every node/.style={anchor=base west, inner sep=0pt, font=\ttlfont}]
\node at ([xshift=0.5pt,yshift=12.5pt]A.north west) {\ttlbox{A.}PM\_D4km N\textsubscript{ice}};
\node at ([xshift=2pt,yshift=12.5pt]C.north west) {\ttlbox{C.}PM\_D4km\_IN N\textsubscript{ice}};
\node at ([xshift=0.5pt,yshift=12.5pt]B.north west) {\ttlbox{B.}PM\_D4km σ};
\node at ([xshift=2pt,yshift=12.5pt]D.north west) {\ttlbox{D.}PM\_D4km\_IN σ};
\end{scope}
\end{tikzpicture}
\end{document}
